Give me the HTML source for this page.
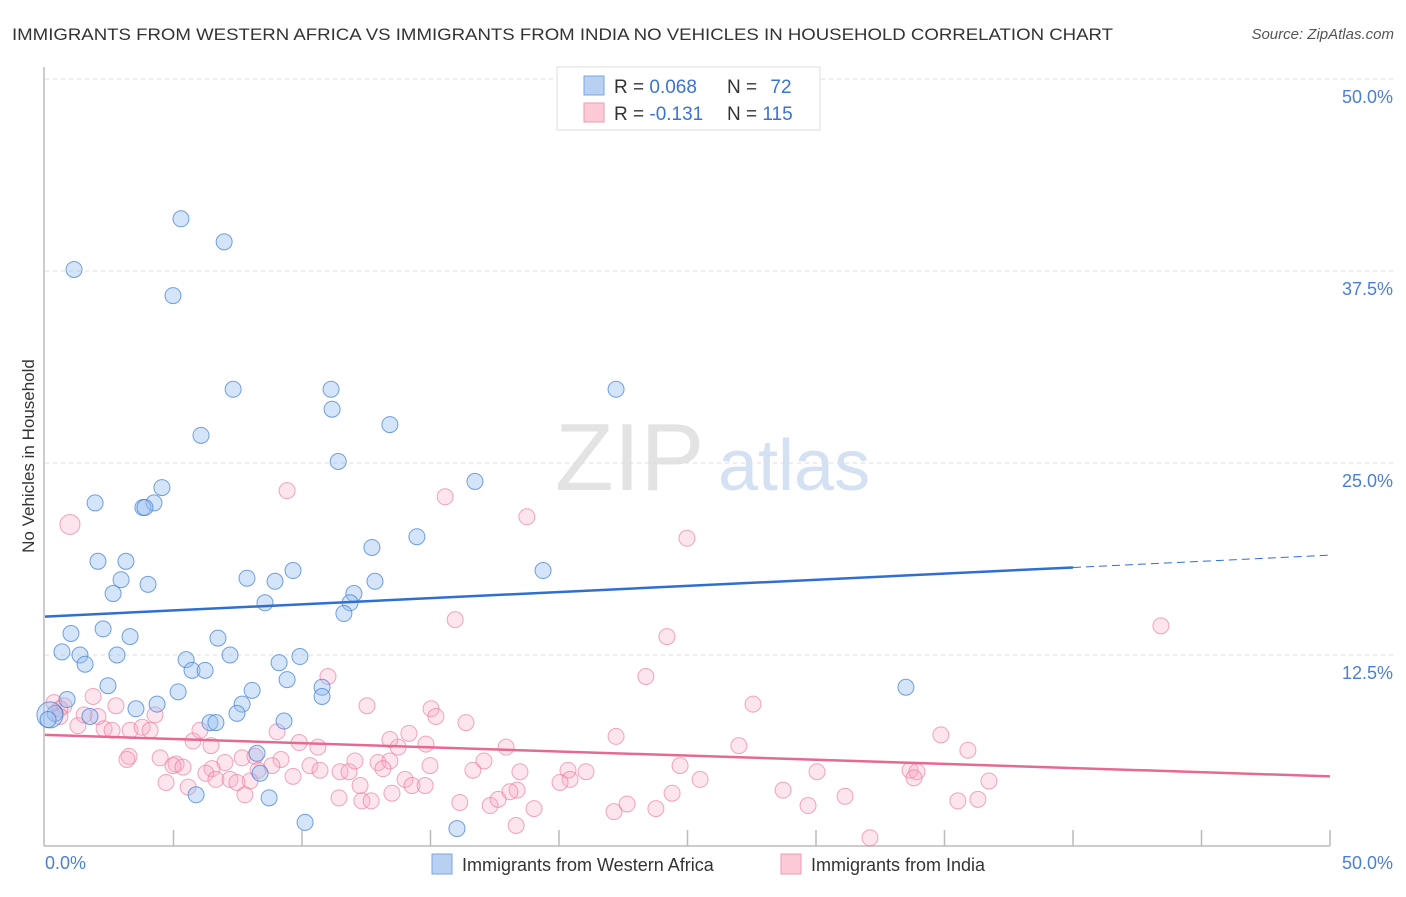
<!DOCTYPE html>
<html><head><meta charset="utf-8"><style>
body{margin:0;background:#fff;font-family:"Liberation Sans",sans-serif}
svg text{font-family:"Liberation Sans",sans-serif}
</style></head><body>
<svg id="chart" width="1406" height="892" xmlns="http://www.w3.org/2000/svg">
<text x="12" y="40" font-size="17" fill="#333" textLength="1101" lengthAdjust="spacingAndGlyphs">IMMIGRANTS FROM WESTERN AFRICA VS IMMIGRANTS FROM INDIA NO VEHICLES IN HOUSEHOLD CORRELATION CHART</text>
<text x="1394" y="39" font-size="15" fill="#555" font-style="italic" text-anchor="end">Source: ZipAtlas.com</text>
<text x="555" y="490" font-size="96" fill="#ddd" font-family="Liberation Serif" opacity="0.8">ZIP</text>
<text x="718" y="490" font-size="72" fill="#c9daf0" opacity="0.8">atlas</text>
<g id="grid"></g>
<g id="axes"></g>
<g id="pink"></g>
<g id="blue"></g>
<g id="lines"></g>
<text transform="translate(34,456) rotate(-90)" font-size="17" fill="#333" text-anchor="middle">No Vehicles in Household</text>
<text x="45" y="869" font-size="18" fill="#4a7fd4">0.0%</text>
<text x="1393" y="869" font-size="18" fill="#4a7fd4" text-anchor="end">50.0%</text>
<g>
<rect x="557" y="67" width="263" height="63" fill="#fff" stroke="#ddd"/>
<rect x="584" y="76" width="20" height="19" fill="#b8d1f3" stroke="#7aa5e3"/>
<rect x="584" y="103" width="20" height="19" fill="#fcc9d7" stroke="#ee9ab3"/>
<text x="614" y="93" font-size="19" fill="#333">R = <tspan fill="#3b73d1">0.068</tspan></text>
<text x="727" y="93" font-size="19" fill="#333">N = <tspan fill="#3b73d1" dx="8">72</tspan></text>
<text x="614" y="120" font-size="19" fill="#333">R = <tspan fill="#3b73d1">-0.131</tspan></text>
<text x="727" y="120" font-size="19" fill="#333">N = <tspan fill="#3b73d1">115</tspan></text>
</g>
<g>
<rect x="432" y="854" width="20" height="20" fill="#b8d1f3" stroke="#7aa5e3"/>
<text x="462" y="871" font-size="18" fill="#333">Immigrants from Western Africa</text>
</g>
<g>
<rect x="781" y="854" width="20" height="20" fill="#fcc9d7" stroke="#ee9ab3"/>
<text x="811" y="871" font-size="18" fill="#333">Immigrants from India</text>
</g>
</svg>
<script>
const yTicks=[12.5,25,37.5,50];
const yTickLabels=["12.5%","25.0%","37.5%","50.0%"];
const xTicks=[5,10,15,20,25,30,35,40,45,50];
const blueX=[5.29,6.97,1.13,4.98,7.32,11.13,22.22,11.17,6.07,13.42,11.41,16.73,4.55,1.95,4.24,3.81,3.89,14.47,12.72,2.06,3.15,19.38,9.65,7.86,8.95,2.96,12.84,4.01,2.65,12.02,8.56,11.87,11.63,1.01,2.26,3.31,6.73,0.66,1.36,2.80,7.20,5.49,9.92,9.11,5.72,6.23,1.56,9.42,5.18,10.78,2.45,8.06,10.78,33.50,7.67,4.36,3.54,0.86,0.39,0.19,0.12,1.75,7.47,6.42,6.65,9.30,8.25,8.37,5.88,8.72,10.12,16.03];
const blueY=[40.9,39.4,37.6,35.9,29.8,29.8,29.8,28.5,26.8,27.5,25.1,23.8,23.4,22.4,22.4,22.1,22.1,20.2,19.5,18.6,18.6,18.0,18.0,17.5,17.3,17.4,17.3,17.1,16.5,16.5,15.9,15.9,15.2,13.9,14.2,13.7,13.6,12.7,12.5,12.5,12.5,12.2,12.4,12.0,11.5,11.5,11.9,10.9,10.1,10.4,10.5,10.2,9.8,10.4,9.3,9.3,9.0,9.6,8.7,8.6,8.3,8.5,8.7,8.1,8.1,8.2,6.1,4.8,3.4,3.2,1.6,1.2];
const pinkX=[0.97,9.42,15.57,18.75,24.98,15.96,24.20,43.42,23.38,11.01,1.87,0.74,0.35,0.58,2.76,12.53,15.02,27.55,15.21,2.06,4.28,3.31,1.28,2.30,2.61,3.78,16.38,14.16,22.22,34.86,5.76,9.89,10.62,6.46,13.74,14.82,17.94,27.00,35.91,3.27,4.48,7.67,5.10,8.17,9.18,12.96,13.42,17.08,3.19,7.00,4.98,5.37,6.50,8.83,10.31,10.70,13.15,16.65,20.35,24.71,30.04,6.26,8.29,11.48,11.83,9.65,21.05,20.43,33.66,33.93,33.81,4.71,5.57,6.65,7.20,7.98,7.47,14.01,14.28,14.79,20.04,12.26,18.37,28.72,36.73,11.44,12.33,12.69,13.50,18.09,24.40,16.14,17.32,17.63,19.03,22.14,22.65,23.77,29.69,31.13,35.52,36.30,18.33,32.10,1.52,4.09,0.58,6.03,9.03,13.42,12.06,18.48,25.49,14.98,7.78];
const pinkY=[21.0,23.2,22.8,21.5,20.1,14.8,13.7,14.4,11.1,11.1,9.8,9.2,9.4,9.0,9.2,9.2,9.0,9.3,8.5,8.5,8.6,7.6,7.9,7.7,7.6,7.8,8.1,7.4,7.2,7.3,6.9,6.8,6.5,6.6,6.5,6.7,6.5,6.6,6.3,5.9,5.8,5.8,5.4,5.9,5.7,5.5,5.6,5.6,5.7,5.5,5.3,5.2,5.1,5.3,5.3,5.0,5.1,5.0,5.0,5.3,4.9,4.8,5.0,4.9,4.9,4.6,4.9,4.4,5.0,4.9,4.5,4.2,3.9,4.4,4.4,4.3,4.2,4.4,4.0,4.0,4.2,4.0,3.7,3.7,4.3,3.2,3.0,3.0,3.5,3.6,3.5,2.9,2.7,3.1,2.5,2.3,2.8,2.5,2.7,3.3,3.0,3.1,1.4,0.6,8.6,7.6,8.5,7.6,7.5,7.0,5.6,4.9,4.4,5.3,3.4];
const blueTrend=[15.0,19.0];const blueSolidEnd=40;const blueDashEnd=50;
const pinkTrend=[7.3,4.6];
const X0=45,X1=1330,Y0=847,Y1=79;
const sx=v=>X0+(v/50)*(X1-X0), sy=v=>Y0-(v/50)*(Y0-Y1);
const NS="http://www.w3.org/2000/svg";
function mk(tag,attrs,parent){const e=document.createElementNS(NS,tag);for(const k in attrs)e.setAttribute(k,attrs[k]);document.getElementById(parent).appendChild(e);return e;}
yTicks.forEach((t,i)=>{
  const g=mk('line',{x1:X0,x2:1393,y1:sy(t),y2:sy(t),stroke:'#ddd','stroke-dasharray':'4,4'},'grid');
  
  
  const tx=mk('text',{x:1393,y:sy(t)+24,'font-size':18,fill:'#4a7fd4','text-anchor':'end'},'grid');
  tx.textContent=yTickLabels[i];
  
  
});
const ax=mk('line',{x1:44,x2:44,y1:67,y2:846,stroke:'#bbb','stroke-width':1.5},'axes');


const bx=mk('line',{x1:44,x2:1330,y1:846,y2:846,stroke:'#bbb','stroke-width':1.5},'axes');


xTicks.forEach(t=>{const l=mk('line',{x1:sx(t),x2:sx(t),y1:830,y2:846,stroke:'#bbb','stroke-width':1.5},'axes');
  
  });
pinkX.forEach((x,i)=>{const r=(i===0)?10:8;
  const c=mk('circle',{cx:sx(x),cy:sy(pinkY[i]),r:r,fill:'rgba(248,170,195,0.3)',stroke:'rgba(236,120,155,0.65)','stroke-width':1},'pink');
  
  });
blueX.forEach((x,i)=>{const r=(i===59)?13:8;
  const c=mk('circle',{cx:sx(x),cy:sy(blueY[i]),r:r,fill:'rgba(150,190,240,0.4)',stroke:'rgba(70,130,215,0.75)','stroke-width':1},'blue');
  
  });
const bt=v=>blueTrend[0]+(blueTrend[1]-blueTrend[0])*v/50;
const l1=mk('line',{x1:sx(0),y1:sy(bt(0)),x2:sx(blueSolidEnd),y2:sy(bt(blueSolidEnd)),stroke:'#2f6fd2','stroke-width':2.5},'lines');


const l2=mk('line',{x1:sx(blueSolidEnd),y1:sy(bt(blueSolidEnd)),x2:sx(blueDashEnd),y2:sy(bt(blueDashEnd)),stroke:'#2f6fd2','stroke-width':1,'stroke-dasharray':'8,5'},'lines');


const l3=mk('line',{x1:sx(0),y1:sy(pinkTrend[0]),x2:sx(50),y2:sy(pinkTrend[1]),stroke:'#e8698f','stroke-width':2.5},'lines');


</script>
</body></html>
